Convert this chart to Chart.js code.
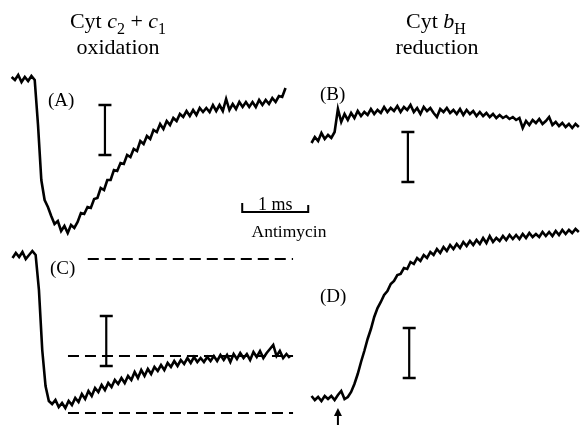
<!DOCTYPE html>
<html>
<head>
<meta charset="utf-8">
<script src="https://cdn.jsdelivr.net/npm/chart.js@4.4.0/dist/chart.umd.min.js"></script>
<style>
  html, body { margin: 0; padding: 0; background: #fff; }
  canvas { display: block; }
</style>
</head>
<body>
<canvas id="grafica" width="582" height="425"></canvas>
<script>
// Muestreo de las trazas
const DT = 0.05;   // ms entre muestras
const T0 = -0.4;   // primera muestra, ms antes del flash
const BAR = 50;    // altura de las barras de escala verticales

// (A) Cyt c2 + c1 oxidación
const trazaA = [3, 0, 5, -2, 3, -1, 4, 0, -45, -100, -120, -127, -136, -144, -141, -151, -146, -153, -145, -148,
  -142, -133, -134, -127, -128, -119, -118, -108, -110, -100, -100, -90, -91, -83, -84, -75, -77, -69, -71, -61,
  -64, -56, -59, -50, -52, -44, -49, -41, -45, -38, -41, -34, -37, -31, -36, -30, -35, -28, -32, -28,
  -32, -25, -31, -25, -31, -19, -30, -24, -29, -22, -27, -22, -27, -22, -27, -20, -25, -20, -24, -18,
  -22, -16, -17, -8];

// (B) Cyt bH reducción
const trazaB = [-3, 3, -1, 7, 1, 5, 2, 8, 31, 18, 26, 20, 27, 22, 29, 24, 28, 25, 31, 26,
  30, 27, 33, 28, 32, 29, 34, 28, 33, 30, 35, 28, 32, 26, 33, 29, 32, 27, 23, 31,
  28, 32, 27, 30, 26, 31, 25, 30, 26, 29, 24, 28, 24, 27, 23, 26, 22, 25, 22, 24,
  21, 23, 20, 22, 12, 19, 15, 20, 17, 21, 16, 19, 23, 15, 18, 14, 17, 13, 16, 12, 16, 13];

// (C) Cyt c2 + c1 con antimicina
const trazaC = [-2, 3, -1, 4, -3, 1, 5, 1, -34, -94, -130, -145, -148, -144, -151, -147, -152, -145, -149, -142,
  -146, -138, -143, -135, -140, -132, -136, -129, -134, -127, -131, -124, -128, -122, -127, -120, -124, -116, -122, -114,
  -120, -113, -118, -111, -115, -109, -114, -107, -111, -105, -110, -104, -108, -102, -107, -101, -106, -102, -106, -101,
  -105, -100, -105, -99, -104, -99, -106, -98, -103, -97, -102, -98, -104, -96, -101, -95, -102, -97, -93, -89,
  -100, -95, -102, -98, -102];

// (D) Cyt bH con antimicina
const trazaD = [2, -2, 1, -3, 2, -1, 2, -2, 3, 7, -1, 1, 6, 14, 24, 36, 47, 59, 69, 81,
  90, 96, 103, 107, 114, 117, 123, 124, 130, 129, 136, 134, 140, 137, 143, 140, 146, 143, 149, 145,
  151, 147, 153, 149, 154, 150, 156, 152, 157, 153, 158, 154, 160, 155, 162, 156, 160, 157, 162, 158,
  163, 159, 163, 159, 164, 160, 165, 161, 164, 161, 166, 162, 166, 162, 167, 163, 168, 164, 168, 165, 169, 166];

// Niveles de referencia del panel C (línea base, nivel de A, mínimo)
const nivelesC = [-3, -100, -157];

// Posición de cada panel en la figura (ms, unidades)
const MS_PX = 66;
const ANCHO = 582 / MS_PX;
const ALTO = 425;
const paneles = {
  A: { flash: 0.576, base: 345, barX: 1.59, barY: 270 },
  B: { flash: 5.12, base: 285, barX: 6.18, barY: 243 },
  C: { flash: 0.59, base: 169, barX: 1.61, barY: 59 },
  D: { flash: 5.12, base: 27, barX: 6.2, barY: 47 }
};

function puntos(traza, p) {
  return traza.map((v, i) => ({ x: p.flash + T0 + i * DT, y: p.base + v }));
}

function trazo(data) {
  return { data: data, borderColor: '#000', borderWidth: 2.6, pointRadius: 0, tension: 0 };
}

function barra(p) {
  return {
    data: [{ x: p.barX, y: p.barY }, { x: p.barX, y: p.barY + BAR }],
    borderColor: '#000', borderWidth: 2.2,
    pointStyle: 'line', pointRadius: 6.5, pointBorderWidth: 2.5, pointBorderColor: '#000'
  };
}

function discontinua(nivel, desde) {
  const y = paneles.C.base + nivel;
  return {
    data: [{ x: desde, y: y }, { x: 4.44, y: y }],
    borderColor: '#000', borderWidth: 2, borderDash: [11, 6], pointRadius: 0
  };
}

// barra de 1 ms
const escalaT = {
  data: [{ x: 3.67, y: 222 }, { x: 3.67, y: 213 }, { x: 3.67 + 1, y: 213 }, { x: 3.67 + 1, y: 220 }],
  borderColor: '#000', borderWidth: 2, pointRadius: 0
};

const SERIF = '"Liberation Serif", "DejaVu Serif", serif';

function textoRico(ctx, partes, cx, y, size) {
  const fuente = p => (p.it ? 'italic ' : '') + (p.sub ? Math.round(size * 0.72) : size) + 'px ' + SERIF;
  let w = 0;
  partes.forEach(p => { ctx.font = fuente(p); w += ctx.measureText(p.t).width; });
  let x = cx - w / 2;
  partes.forEach(p => {
    ctx.font = fuente(p);
    ctx.fillText(p.t, x, y + (p.sub ? size * 0.25 : 0));
    x += ctx.measureText(p.t).width;
  });
}

const textos = {
  id: 'textos',
  afterDatasetsDraw(chart) {
    const ctx = chart.ctx;
    const sx = chart.scales.x, sy = chart.scales.y;
    const px = v => sx.getPixelForValue(v), py = v => sy.getPixelForValue(v);
    ctx.save();
    ctx.fillStyle = '#000';
    ctx.textBaseline = 'alphabetic';

    textoRico(ctx, [{ t: 'Cyt ' }, { t: 'c', it: true }, { t: '2', sub: true }, { t: ' + ' }, { t: 'c', it: true }, { t: '1', sub: true }], 118, 28, 22);
    textoRico(ctx, [{ t: 'oxidation' }], 118, 54, 22);
    textoRico(ctx, [{ t: 'Cyt ' }, { t: 'b', it: true }, { t: 'H', sub: true }], 436, 28, 22);
    textoRico(ctx, [{ t: 'reduction' }], 437, 54, 22);

    ctx.font = '19px ' + SERIF;
    ctx.textAlign = 'left';
    ctx.fillText('(A)', 48, 106);
    ctx.fillText('(B)', 320, 100);
    ctx.fillText('(C)', 50, 274);
    ctx.fillText('(D)', 320, 302);

    ctx.textAlign = 'center';
    ctx.font = '18px ' + SERIF;
    ctx.fillText('1 ms', px(3.67 + 0.5), py(215));
    ctx.font = '17.5px ' + SERIF;
    ctx.fillText('Antimycin', 289, 237);

    // flecha del flash en D
    const ax = px(paneles.D.flash), top = py(paneles.D.base - 10);
    ctx.strokeStyle = '#000';
    ctx.lineWidth = 2;
    ctx.beginPath();
    ctx.moveTo(ax, chart.height);
    ctx.lineTo(ax, top + 6);
    ctx.stroke();
    ctx.beginPath();
    ctx.moveTo(ax, top);
    ctx.lineTo(ax - 4, top + 8);
    ctx.lineTo(ax + 4, top + 8);
    ctx.closePath();
    ctx.fill();
    ctx.restore();
  }
};

const ctxFig = document.getElementById('grafica').getContext('2d');
const grafica = new Chart(ctxFig, {
  type: 'line',
  data: {
    datasets: [
      trazo(puntos(trazaA, paneles.A)),
      trazo(puntos(trazaB, paneles.B)),
      trazo(puntos(trazaC, paneles.C)),
      trazo(puntos(trazaD, paneles.D)),
      barra(paneles.A), barra(paneles.B), barra(paneles.C), barra(paneles.D),
      discontinua(nivelesC[0], 1.33),
      discontinua(nivelesC[1], 1.03),
      discontinua(nivelesC[2], 1.03),
      escalaT
    ]
  },
  plugins: [textos],
  options: {
    responsive: false,
    animation: false,
    devicePixelRatio: 1,
    layout: { padding: 0, autoPadding: false },
    scales: {
      x: { type: 'linear', min: 0, max: ANCHO, display: false },
      y: { type: 'linear', min: 0, max: ALTO, display: false }
    },
    plugins: {
      legend: { display: false },
      tooltip: { enabled: false }
    }
  }
});
</script>
</body>
</html>
